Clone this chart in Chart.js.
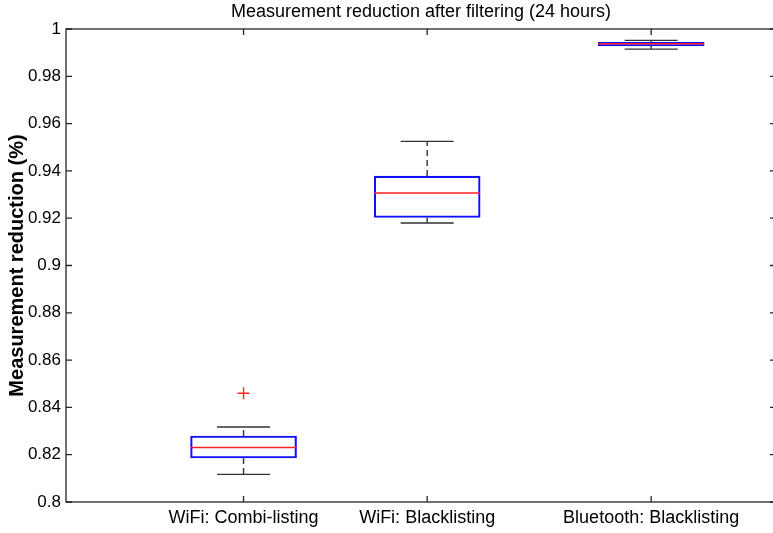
<!DOCTYPE html>
<html lang="en">
<head>
    <meta charset="utf-8" />
    <title>Measurement reduction after filtering (24 hours)</title>
    <script src="https://cdn.jsdelivr.net/npm/chart.js"></script>
    <style>
        html, body { margin: 0; padding: 0; background: #fff; overflow: hidden; }
        #wrap { width: 776px; height: 533px; }
    </style>
</head>
<body>
    <div id="wrap"><canvas id="myChart"></canvas></div>
    <script>
        // Kategori (label sumbu x)
        var categories = ['WiFi: Combi-listing', 'WiFi: Blacklisting', 'Bluetooth: Blacklisting'];
        // posisi kategori pada sumbu x (nilai sumbu, bukan piksel)
        var categoryX = [1, 2, 3.22];

        // Statistik boxplot per kategori
        var whiskerLow = [0.8117, 0.9180, 0.9915];
        var q1 = [0.8186, 0.9203, 0.9928];
        var median = [0.8230, 0.9307, 0.9938];
        var q3 = [0.8279, 0.9378, 0.9944];
        var whiskerHigh = [0.8317, 0.9525, 0.9952];

        // Outlier: indeks kategori + nilai
        var outlierCat = [0];
        var outlierVal = [0.8460];

        // Label tick sumbu y
        var yTicks = [0.8, 0.82, 0.84, 0.86, 0.88, 0.9, 0.92, 0.94, 0.96, 0.98, 1];

        var TITLE = 'Measurement reduction after filtering (24 hours)';
        var FONT = 'Liberation Sans, Arial, sans-serif';
        var AXIS_COLOR = '#262626';

        // Plugin: whisker, median, bingkai, tick ke dalam (gaya MATLAB) dan judul
        var boxPlugin = {
            id: 'boxPlugin',
            afterDatasetsDraw: function (chart) {
                var ctx = chart.ctx;
                var ys = chart.scales.y;
                var xs = chart.scales.x;
                var area = chart.chartArea;
                var meta = chart.getDatasetMeta(0);
                ctx.save();
                meta.data.forEach(function (bar, i) {
                    var cx = bar.x;
                    var half = bar.width / 2;
                    var capHalf = bar.width / 4;
                    var yHi = ys.getPixelForValue(whiskerHigh[i]);
                    var yLo = ys.getPixelForValue(whiskerLow[i]);
                    var yQ1 = ys.getPixelForValue(q1[i]);
                    var yQ3 = ys.getPixelForValue(q3[i]);
                    var yMed = ys.getPixelForValue(median[i]);

                    // whisker putus-putus
                    ctx.strokeStyle = '#333';
                    ctx.lineWidth = 1.4;
                    ctx.setLineDash([6, 4]);
                    ctx.beginPath();
                    ctx.moveTo(cx, yQ3);
                    ctx.lineTo(cx, yHi);
                    ctx.moveTo(cx, yQ1);
                    ctx.lineTo(cx, yLo);
                    ctx.stroke();

                    // cap whisker
                    ctx.setLineDash([]);
                    ctx.beginPath();
                    ctx.moveTo(cx - capHalf, yHi);
                    ctx.lineTo(cx + capHalf, yHi);
                    ctx.moveTo(cx - capHalf, yLo);
                    ctx.lineTo(cx + capHalf, yLo);
                    ctx.stroke();

                    // median merah
                    ctx.strokeStyle = '#ff2020';
                    ctx.lineWidth = 1.5;
                    ctx.beginPath();
                    ctx.moveTo(cx - half, yMed);
                    ctx.lineTo(cx + half, yMed);
                    ctx.stroke();
                });

                // bingkai sumbu
                ctx.strokeStyle = AXIS_COLOR;
                ctx.lineWidth = 1.3;
                ctx.strokeRect(area.left, area.top, area.right - area.left, area.bottom - area.top);

                // tick y ke dalam (kiri dan kanan)
                ctx.beginPath();
                yTicks.forEach(function (v) {
                    var py = ys.getPixelForValue(v);
                    ctx.moveTo(area.left, py);
                    ctx.lineTo(area.left + 6, py);
                    ctx.moveTo(area.right, py);
                    ctx.lineTo(area.right - 6, py);
                });
                // tick x ke dalam (bawah dan atas)
                categoryX.forEach(function (v) {
                    var px = xs.getPixelForValue(v);
                    ctx.moveTo(px, area.bottom);
                    ctx.lineTo(px, area.bottom - 6);
                    ctx.moveTo(px, area.top);
                    ctx.lineTo(px, area.top + 6);
                });
                ctx.stroke();

                // judul, di tengah area plot
                ctx.fillStyle = '#000';
                ctx.font = '18px ' + FONT;
                ctx.textAlign = 'center';
                ctx.textBaseline = 'middle';
                ctx.fillText(TITLE, (area.left + area.right) / 2, area.top - 17);
                ctx.restore();
            }
        };

        var boxData = categories.map(function (c, i) {
            return { x: categoryX[i], y: [q1[i], q3[i]] };
        });
        var outlierData = outlierCat.map(function (c, i) {
            return { x: categoryX[c], y: outlierVal[i] };
        });

        var ctx = document.getElementById('myChart').getContext('2d');
        new Chart(ctx, {
            type: 'bar',
            data: {
                datasets: [
                    {
                        label: 'Box',
                        data: boxData,
                        backgroundColor: 'rgba(255,255,255,0)',
                        borderColor: '#1010ff',
                        borderWidth: 1.5,
                        borderSkipped: false,
                        barThickness: 106,
                        grouped: false
                    },
                    {
                        type: 'line',
                        label: 'Outlier',
                        data: outlierData,
                        showLine: false,
                        pointStyle: 'cross',
                        pointRadius: 6,
                        pointBorderColor: '#ff2020',
                        pointBorderWidth: 1.4,
                        pointBackgroundColor: '#ff2020'
                    }
                ]
            },
            options: {
                responsive: true,
                maintainAspectRatio: false,
                animation: false,
                layout: { autoPadding: false, padding: { top: 29, right: 0, bottom: 0, left: 0 } },
                plugins: {
                    legend: { display: false },
                    tooltip: { enabled: false },
                    title: { display: false }
                },
                scales: {
                    x: {
                        type: 'linear',
                        offset: false,
                        min: 0.033,
                        max: 3.9,
                        grid: { display: false, drawTicks: false },
                        border: { display: false },
                        afterBuildTicks: function (axis) {
                            axis.ticks = categoryX.map(function (v) { return { value: v }; });
                        },
                        afterFit: function (axis) {
                            axis.height = 31;
                            axis.paddingLeft = 0;
                            axis.paddingRight = 0;
                        },
                        ticks: {
                            autoSkip: false,
                            maxRotation: 0,
                            padding: 5,
                            color: '#000',
                            font: { family: FONT, size: 18 },
                            callback: function (v) {
                                var idx = categoryX.indexOf(v);
                                return idx >= 0 ? categories[idx] : '';
                            }
                        }
                    },
                    y: {
                        min: 0.8,
                        max: 1,
                        grid: { display: false, drawTicks: false },
                        border: { display: false },
                        afterBuildTicks: function (axis) {
                            axis.ticks = yTicks.map(function (v) { return { value: v }; });
                        },
                        afterFit: function (axis) {
                            axis.width = 66;
                            axis.paddingTop = 0;
                            axis.paddingBottom = 0;
                        },
                        ticks: {
                            padding: 5,
                            color: '#000',
                            font: { family: FONT, size: 17 },
                            callback: function (v) { return String(parseFloat(v.toFixed(2))); }
                        },
                        title: {
                            display: true,
                            text: 'Measurement reduction (%)',
                            color: '#000',
                            font: { family: FONT, size: 20, weight: 'bold' },
                            padding: { top: 5, bottom: 0 }
                        }
                    }
                }
            },
            plugins: [boxPlugin]
        });
    </script>
</body>
</html>
